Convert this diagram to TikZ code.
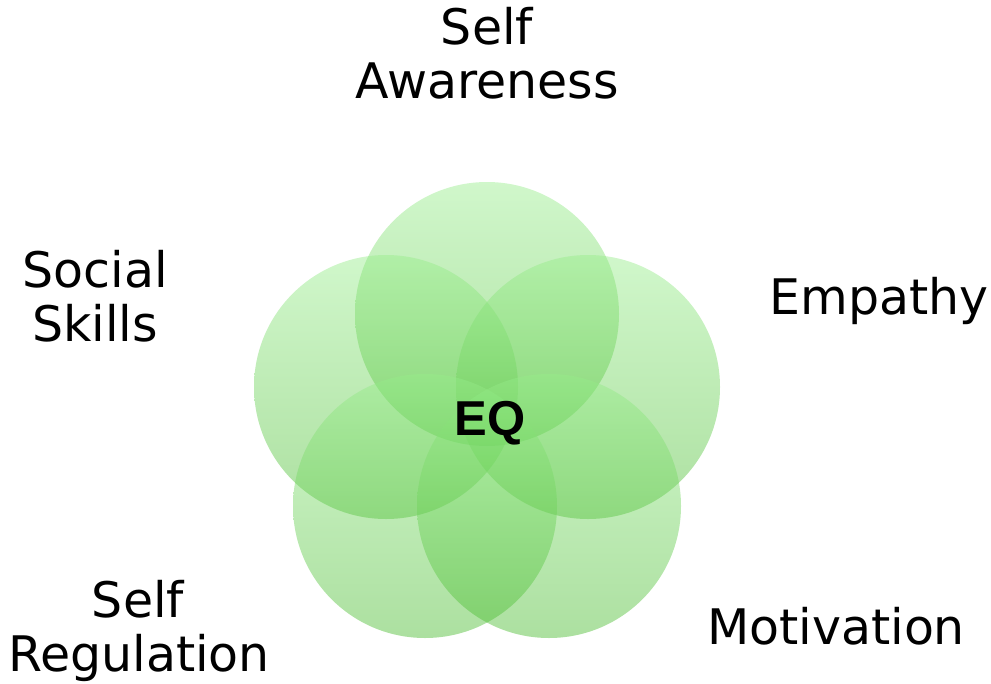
\documentclass[tikz,border=0pt]{standalone}
\usepackage{fontspec}
\setmainfont{DejaVu Sans}
\newfontfamily\eqfont{Liberation Sans}
\definecolor{gtop}{RGB}{151,237,139}
\definecolor{gbot}{RGB}{71,186,44}
\begin{document}
\begin{tikzpicture}[x=1pt,y=-1pt,
  petal/.style={top color=gtop,bottom color=gbot,opacity=0.45,draw=none},
  lbl/.style={anchor=base,inner sep=0pt,font=\fontsize{49}{54}\selectfont},
  eqlbl/.style={anchor=base,inner sep=0pt,font=\eqfont\bfseries\fontsize{49}{54}\selectfont}]
\useasboundingbox (0,0) rectangle (991,683);
% five overlapping circles
\coordinate (cT)  at (487,314);
\coordinate (cL)  at (386,387);
\coordinate (cR)  at (588,387);
\coordinate (cBL) at (425,506);
\coordinate (cBR) at (549,506);
\shade[petal] (cT)  circle[radius=132pt];
\shade[petal] (cL)  circle[radius=132pt];
\shade[petal] (cR)  circle[radius=132pt];
\shade[petal] (cBL) circle[radius=132pt];
\shade[petal] (cBR) circle[radius=132pt];
% labels
\node[eqlbl] (eq) at (490,435) {EQ};
\node[lbl] (sa1) at (487,44) {Self};
\node[lbl] (sa2) at (487,98) {Awareness};
\node[lbl] (ss1) at (95,287) {Social};
\node[lbl] (ss2) at (95,341) {Skills};
\node[lbl] (em) at (879,314) {Empathy};
\node[lbl] (sr1) at (138,617) {Self};
\node[lbl] (sr2) at (139,671) {Regulation};
\node[lbl] (mo) at (836,644) {Motivation};
\end{tikzpicture}
\end{document}
